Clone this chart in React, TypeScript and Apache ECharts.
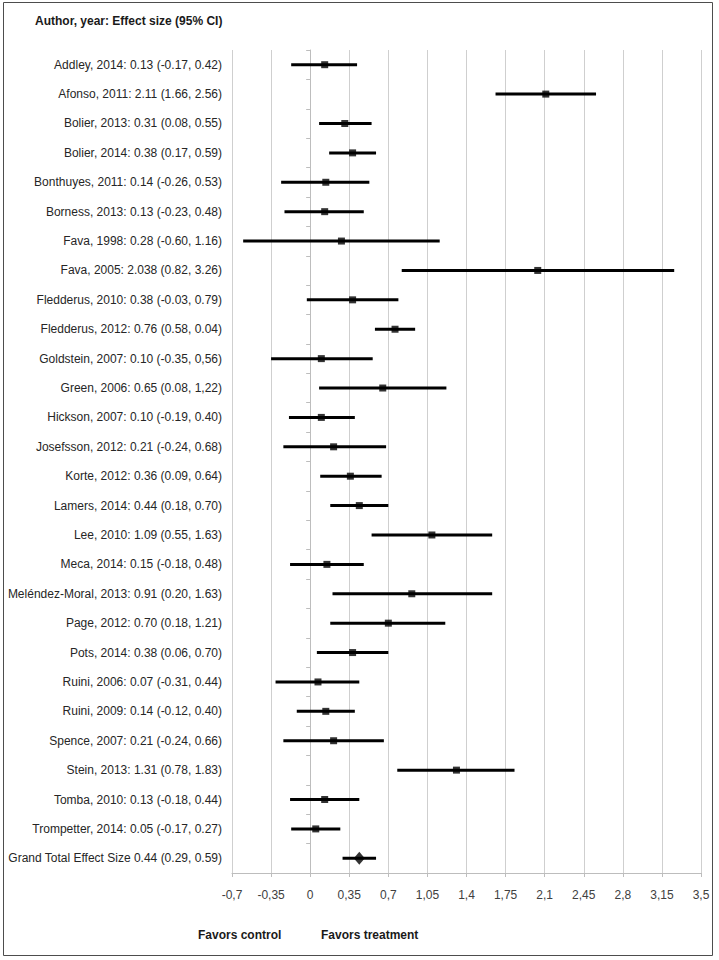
import React, { useEffect, useRef } from "react";
import * as echarts from "echarts";

const studyLabels: string[] = [
  "Addley, 2014: 0.13 (-0.17, 0.42)",
  "Afonso, 2011: 2.11 (1.66, 2.56)",
  "Bolier, 2013: 0.31 (0.08, 0.55)",
  "Bolier, 2014: 0.38 (0.17, 0.59)",
  "Bonthuyes, 2011: 0.14 (-0.26, 0.53)",
  "Borness, 2013: 0.13 (-0.23, 0.48)",
  "Fava, 1998: 0.28 (-0.60, 1.16)",
  "Fava, 2005: 2.038 (0.82, 3.26)",
  "Fledderus, 2010: 0.38 (-0.03, 0.79)",
  "Fledderus, 2012: 0.76 (0.58, 0.04)",
  "Goldstein, 2007: 0.10 (-0.35, 0,56)",
  "Green, 2006: 0.65 (0.08, 1,22)",
  "Hickson, 2007: 0.10 (-0.19, 0.40)",
  "Josefsson, 2012: 0.21 (-0.24, 0.68)",
  "Korte, 2012: 0.36 (0.09, 0.64)",
  "Lamers, 2014: 0.44 (0.18, 0.70)",
  "Lee, 2010: 1.09 (0.55, 1.63)",
  "Meca, 2014: 0.15 (-0.18, 0.48)",
  "Meléndez-Moral, 2013: 0.91 (0.20, 1.63)",
  "Page, 2012: 0.70 (0.18, 1.21)",
  "Pots, 2014: 0.38 (0.06, 0.70)",
  "Ruini, 2006: 0.07 (-0.31, 0.44)",
  "Ruini, 2009: 0.14 (-0.12, 0.40)",
  "Spence, 2007: 0.21 (-0.24, 0.66)",
  "Stein, 2013: 1.31 (0.78, 1.83)",
  "Tomba, 2010: 0.13 (-0.18, 0.44)",
  "Trompetter, 2014: 0.05 (-0.17, 0.27)",
  "Grand Total Effect Size 0.44 (0.29, 0.59)",
];

const estimates: number[] = [
  0.13, 2.11, 0.31, 0.38, 0.14, 0.13, 0.28, 2.038, 0.38, 0.76, 0.1, 0.65, 0.1,
  0.21, 0.36, 0.44, 1.09, 0.15, 0.91, 0.7, 0.38, 0.07, 0.14, 0.21, 1.31, 0.13,
  0.05, 0.44,
];
const lowerCI: number[] = [
  -0.17, 1.66, 0.08, 0.17, -0.26, -0.23, -0.6, 0.82, -0.03, 0.58, -0.35, 0.08,
  -0.19, -0.24, 0.09, 0.18, 0.55, -0.18, 0.2, 0.18, 0.06, -0.31, -0.12, -0.24,
  0.78, -0.18, -0.17, 0.29,
];
const upperCI: number[] = [
  0.42, 2.56, 0.55, 0.59, 0.53, 0.48, 1.16, 3.26, 0.79, 0.94, 0.56, 1.22, 0.4,
  0.68, 0.64, 0.7, 1.63, 0.48, 1.63, 1.21, 0.7, 0.44, 0.4, 0.66, 1.83, 0.44,
  0.27, 0.59,
];

const xTickLabels: string[] = [
  "-0,7", "-0,35", "0", "0,35", "0,7", "1,05", "1,4", "1,75", "2,1", "2,45",
  "2,8", "3,15", "3,5",
];
const xMin = -0.7;
const xMax = 3.5;
const xStep = 0.35;

const titleText = "Author, year: Effect size (95% CI)";
const favorsControl = "Favors control";
const favorsTreatment = "Favors treatment";

const FONT = "'Liberation Sans', Arial, sans-serif";

export default function App() {
  const ref = useRef<HTMLDivElement>(null);

  useEffect(() => {
    if (!ref.current) return;
    const chart = echarts.init(ref.current, undefined, { renderer: "svg" });
    const n = studyLabels.length;
    const totalIdx = n - 1;

    const barData = studyLabels.map((_, i) => [i, lowerCI[i], upperCI[i]]);
    const squareData = estimates
      .slice(0, totalIdx)
      .map((v, i) => [v, i]);
    const diamondData = [[estimates[totalIdx], totalIdx]];

    chart.setOption({
      animation: false,
      backgroundColor: "#ffffff",
      textStyle: { fontFamily: FONT },
      grid: { left: 232, right: 18, top: 50, bottom: 87, containLabel: false },
      xAxis: {
        type: "value",
        min: xMin,
        max: xMax,
        interval: xStep,
        axisLine: { show: true, onZero: false, lineStyle: { color: "#bdbdbd", width: 1 } },
        axisTick: { show: true, length: 4, lineStyle: { color: "#bdbdbd" } },
        splitLine: { show: true, lineStyle: { color: "#cfcfcf", width: 1 } },
        axisLabel: {
          margin: 16,
          fontSize: 12,
          color: "#404040",
          fontFamily: FONT,
          formatter: (v: number) => xTickLabels[Math.round((v - xMin) / xStep)] ?? "",
        },
      },
      yAxis: [
        {
          type: "category",
          data: studyLabels,
          inverse: true,
          position: "left",
          axisLine: { show: false, onZero: false },
          axisTick: { show: false },
          splitLine: { show: false },
          axisLabel: {
            margin: 10,
            fontSize: 12,
            color: "#262626",
            fontFamily: FONT,
            interval: 0,
          },
        },
        {
          type: "category",
          data: studyLabels,
          inverse: true,
          position: "left",
          axisLine: { show: true, onZero: true, lineStyle: { color: "#bdbdbd", width: 1 } },
          axisTick: { show: true, length: 4, lineStyle: { color: "#bdbdbd" } },
          axisLabel: { show: false },
          splitLine: { show: false },
        },
      ],
      series: [
        {
          type: "custom",
          yAxisIndex: 0,
          encode: { x: [1, 2], y: 0 },
          data: barData,
          renderItem: (params: any, api: any) => {
            const idx = api.value(0);
            const p1 = api.coord([api.value(1), idx]);
            const p2 = api.coord([api.value(2), idx]);
            return {
              type: "line",
              shape: { x1: p1[0], y1: p1[1], x2: p2[0], y2: p2[1] },
              style: { stroke: "#000000", lineWidth: 3 },
            };
          },
          z: 3,
        },
        {
          type: "scatter",
          yAxisIndex: 0,
          data: squareData,
          symbol: "rect",
          symbolSize: [7, 7],
          itemStyle: { color: "#000000" },
          z: 4,
        },
        {
          type: "scatter",
          yAxisIndex: 0,
          data: diamondData,
          symbol: "diamond",
          symbolSize: [11, 13],
          itemStyle: { color: "#000000" },
          z: 4,
        },
      ],
      graphic: [
        {
          type: "rect",
          shape: { x: 3.5, y: 2.5, width: 709, height: 953 },
          style: { fill: "none", stroke: "#4d4d4d", lineWidth: 1 },
          silent: true,
        },
        {
          type: "text",
          x: 35,
          y: 21,
          style: {
            text: titleText,
            fontSize: 12,
            fontWeight: "bold",
            fontFamily: FONT,
            fill: "#1a1a1a",
            verticalAlign: "middle",
          },
        },
        {
          type: "text",
          x: 198,
          y: 935,
          style: {
            text: favorsControl,
            fontSize: 12,
            fontWeight: "bold",
            fontFamily: FONT,
            fill: "#1a1a1a",
            verticalAlign: "middle",
          },
        },
        {
          type: "text",
          x: 321,
          y: 935,
          style: {
            text: favorsTreatment,
            fontSize: 12,
            fontWeight: "bold",
            fontFamily: FONT,
            fill: "#1a1a1a",
            verticalAlign: "middle",
          },
        },
      ],
    });

    return () => {
      chart.dispose();
    };
  }, []);

  return (
    <div
      ref={ref}
      style={{ position: "absolute", left: 0, top: 0, width: 719, height: 960 }}
    />
  );
}
